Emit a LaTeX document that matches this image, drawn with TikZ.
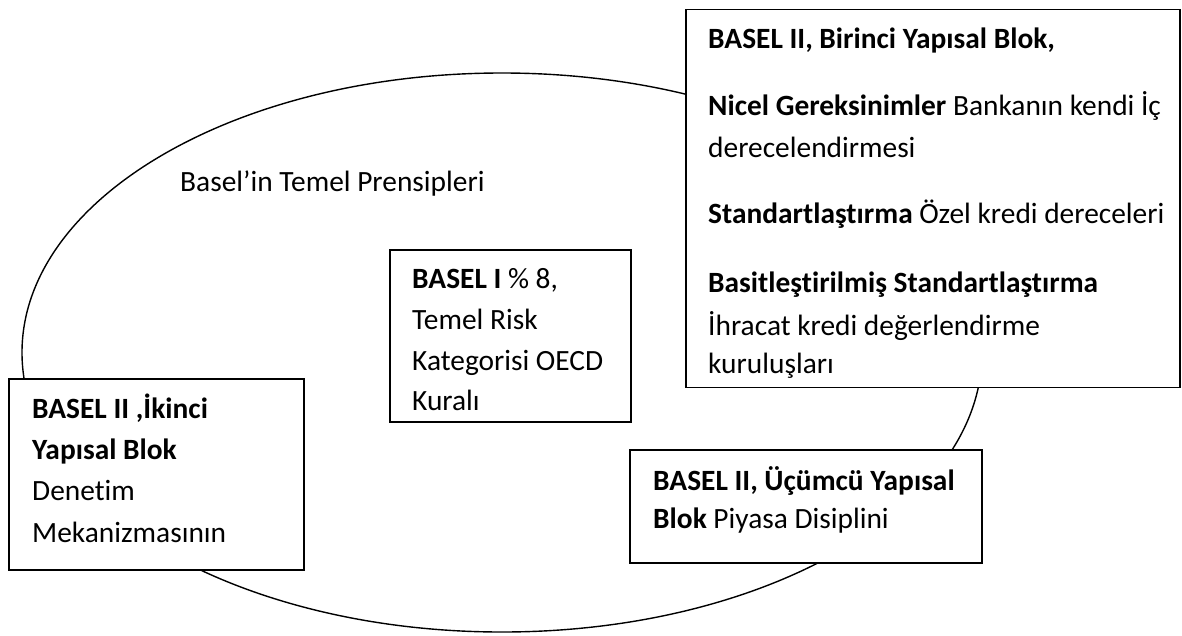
\documentclass[tikz,border=0pt]{standalone}
\usepackage{fontspec}
\setmainfont{Carlito}[Ligatures={NoCommon}]
\begin{document}
\begin{tikzpicture}[x=1pt,y=-1pt,
  box/.style={draw, line width=1.6pt, fill=white, inner sep=0pt, outer sep=0pt},
  txt/.style={anchor=base west, inner sep=0pt, font=\fontsize{29.4}{34}\selectfont},
  ring/.style={draw, line width=1.4pt}]
\useasboundingbox[fill=white] (0,0) rectangle (1182,635);
% big ellipse
\draw[ring] (502,352.5) ellipse [x radius=480pt, y radius=279.5pt];
\node[txt] (title) at (180,191) {Basel’in Temel Prensipleri};
% top right box
\node[box, minimum width=494pt, minimum height=378pt] (b1) at (933,198.5) {};
\node[txt] (b1l1) at (708,48) {\textbf{BASEL II, Birinci Yapısal Blok,}};
\node[txt] (b1l2) at (708,115) {\textbf{Nicel Gereksinimler} Bankanın kendi İç};
\node[txt] (b1l3) at (708,157) {derecelendirmesi};
\node[txt] (b1l4) at (708,223) {\textbf{Standartlaştırma} Özel kredi dereceleri};
\node[txt] (b1l5) at (708,292) {\textbf{Basitleştirilmiş Standartlaştırma}};
\node[txt] (b1l6) at (708,335) {İhracat kredi değerlendirme};
\node[txt] (b1l7) at (708,373) {kuruluşları};
% centre box
\node[box, minimum width=241pt, minimum height=172pt] (b2) at (510.5,336) {};
\node[txt] (b2l1) at (412,288) {\textbf{BASEL I} \% 8,};
\node[txt] (b2l2) at (412,329) {Temel Risk};
\node[txt] (b2l3) at (412,370) {Kategorisi OECD};
\node[txt] (b2l4) at (412,410) {Kuralı};
% left box
\node[box, minimum width=295pt, minimum height=191pt] (b3) at (156.5,474.5) {};
\node[txt] (b3l1) at (32,418) {\textbf{BASEL II ,İkinci}};
\node[txt] (b3l2) at (32,459) {\textbf{Yapısal Blok}};
\node[txt] (b3l3) at (32,500) {Denetim};
\node[txt] (b3l4) at (32,542) {Mekanizmasının};
% bottom right box
\node[box, minimum width=352pt, minimum height=113pt] (b4) at (806,506.5) {};
\node[txt] (b4l1) at (653,490) {\textbf{BASEL II, Üçümcü Yapısal}};
\node[txt] (b4l2) at (653,528) {\textbf{Blok} Piyasa Disiplini};
\end{tikzpicture}
\end{document}
